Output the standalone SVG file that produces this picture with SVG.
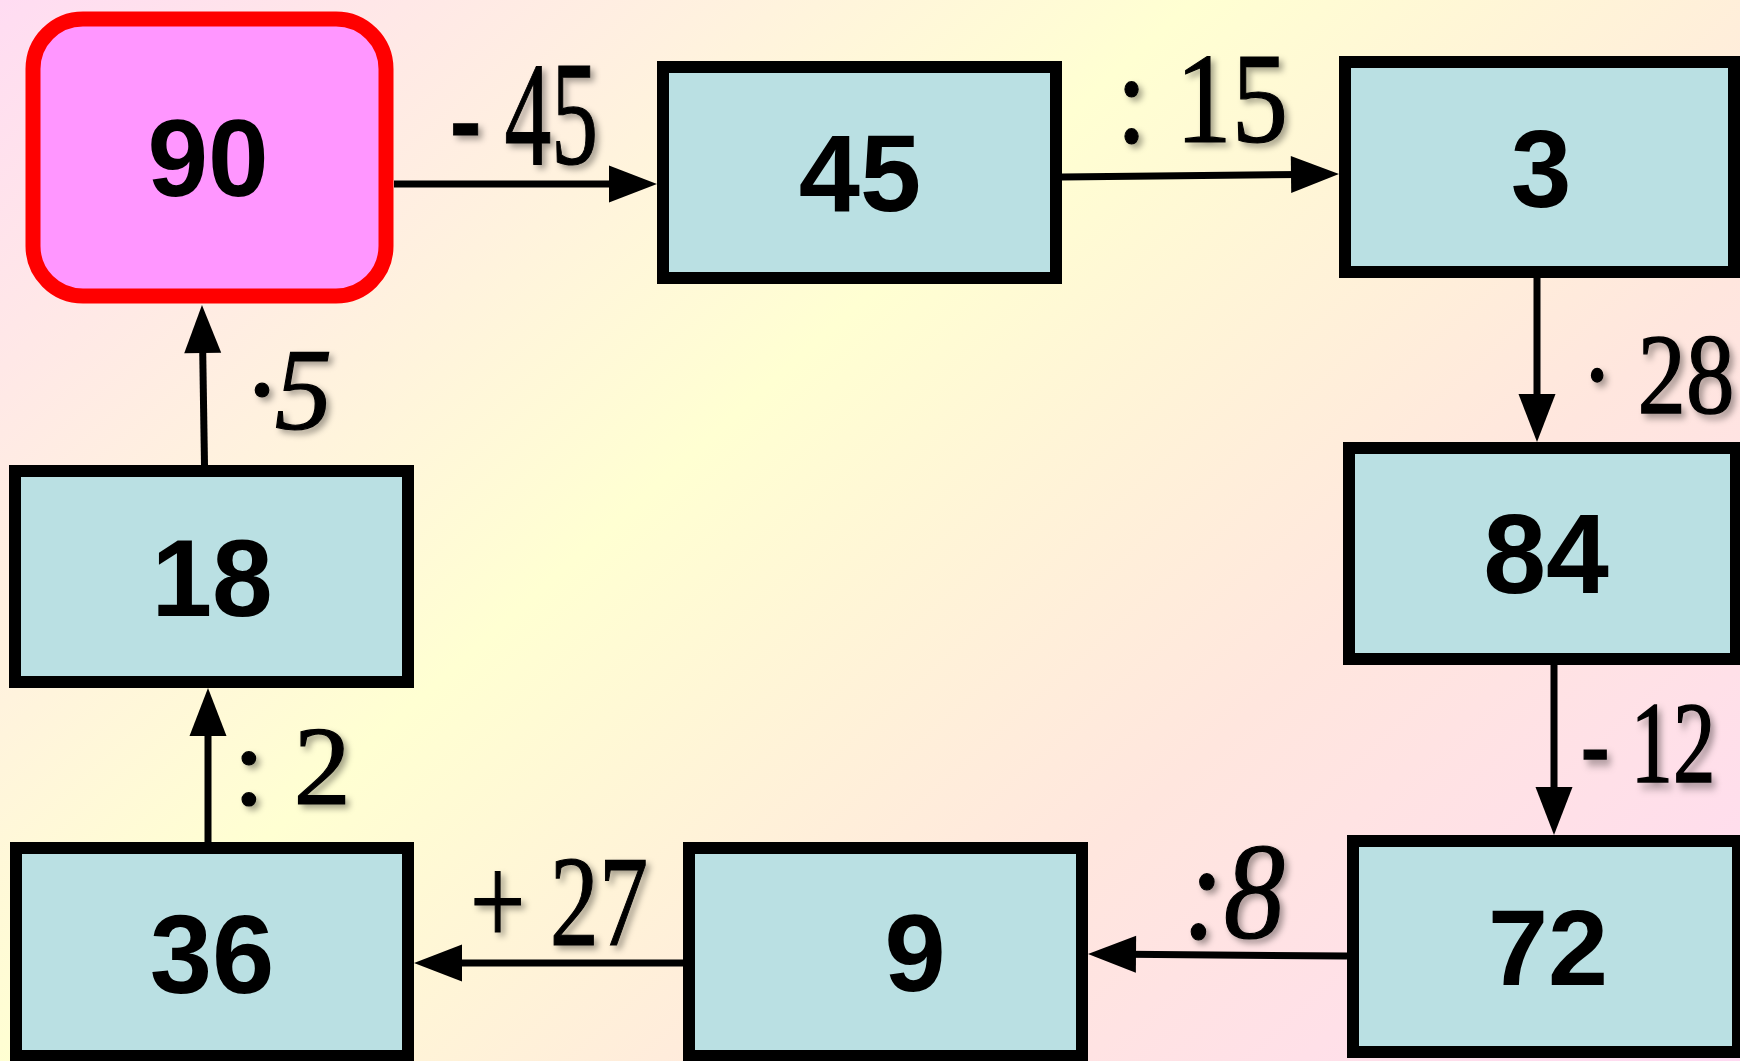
<svg xmlns="http://www.w3.org/2000/svg" width="1740" height="1061" viewBox="0 0 1740 1061">
  <defs>
    <linearGradient id="bg" gradientUnits="userSpaceOnUse" x1="0" y1="0" x2="1305" y2="1450">
      <stop offset="0" stop-color="#FFDCF2"/>
      <stop offset="0.41" stop-color="#FFFFD2"/>
      <stop offset="0.7" stop-color="#FFE6DE"/>
      <stop offset="1" stop-color="#FFDAF2"/>
    </linearGradient>
    <filter id="sh" x="-20%" y="-20%" width="140%" height="140%">
      <feDropShadow dx="4" dy="4" stdDeviation="3" flood-color="#000" flood-opacity="0.35"/>
    </filter>
    <marker id="ah" markerUnits="userSpaceOnUse" markerWidth="48" markerHeight="37" refX="8" refY="18.5" orient="auto" overflow="visible">
      <path d="M0,0 L48,18.5 L0,37 z" fill="#000"/>
    </marker>
  </defs>
  <style>
    .box { fill: #BAE0E3; stroke: #000; stroke-width: 12; }
    .start { fill: #FF96FF; stroke: #FF0000; stroke-width: 15; }
    .num { font-family: "Liberation Sans", Arial, sans-serif; font-weight: bold; fill: #000; text-anchor: middle; }
    .lbl { font-family: "Liberation Serif", "Times New Roman", serif; fill: #000; stroke: #000; stroke-width: 1.2; filter: url(#sh); }
    .it { font-style: italic; }
    .conn { stroke: #000; stroke-width: 7; fill: none; marker-end: url(#ah); }
  </style>
  <rect x="0" y="0" width="1740" height="1061" fill="url(#bg)"/>

  <g id="connectors">
    <line class="conn" x1="394" y1="184" x2="617" y2="184"/>
    <line class="conn" x1="1062" y1="177" x2="1299" y2="174.4"/>
    <line class="conn" x1="1537" y1="278" x2="1537" y2="402"/>
    <line class="conn" x1="1554" y1="664" x2="1554" y2="795"/>
    <line class="conn" x1="1347" y1="956" x2="1128" y2="954.3"/>
    <line class="conn" x1="683" y1="963" x2="454" y2="963"/>
    <line class="conn" x1="208" y1="842" x2="208" y2="728"/>
    <line class="conn" x1="204.5" y1="465" x2="202.6" y2="345"/>
  </g>

  <g id="labels">
    <text class="lbl" x="450" y="164" font-size="148" textLength="148" lengthAdjust="spacingAndGlyphs">- 45</text>
    <text class="lbl" x="1116" y="142" font-size="129" textLength="172" lengthAdjust="spacingAndGlyphs">: 15</text>
    <text class="lbl" transform="translate(1581,413) scale(1,1.186)" x="0" y="0" font-size="97">· 28</text>
    <text class="lbl" transform="translate(1581,782) scale(1,1.376)" x="0" y="0" font-size="85">- 12</text>
    <text class="lbl it" x="1183" y="938" font-size="137" textLength="102" lengthAdjust="spacingAndGlyphs">:8</text>
    <text class="lbl" x="470" y="945" font-size="130" textLength="178" lengthAdjust="spacingAndGlyphs">+ 27</text>
    <text class="lbl" x="233" y="804" font-size="112" textLength="118" lengthAdjust="spacingAndGlyphs">: 2</text>
    <text class="lbl it" x="246" y="429" font-size="117" textLength="86" lengthAdjust="spacingAndGlyphs">·5</text>
  </g>

  <g id="node-90">
    <rect class="start" x="33" y="19" width="353" height="277" rx="50" ry="50"/>
    <text class="num" x="208" y="196" font-size="109">90</text>
  </g>
  <g id="node-45">
    <rect class="box" x="663" y="67" width="393" height="211"/>
    <text class="num" x="860" y="211" font-size="110">45</text>
  </g>
  <g id="node-3">
    <rect class="box" x="1345" y="62" width="389" height="210"/>
    <text class="num" x="1541" y="207" font-size="109">3</text>
  </g>
  <g id="node-84">
    <rect class="box" x="1349" y="448" width="387" height="211"/>
    <text class="num" x="1546" y="593" font-size="113">84</text>
  </g>
  <g id="node-72">
    <rect class="box" x="1353" y="841" width="385" height="211"/>
    <text class="num" x="1548" y="985" font-size="108">72</text>
  </g>
  <g id="node-9">
    <rect class="box" x="689" y="848" width="393" height="208"/>
    <text class="num" x="915" y="991" font-size="110">9</text>
  </g>
  <g id="node-36">
    <rect class="box" x="16" y="848" width="392" height="208"/>
    <text class="num" x="212" y="993" font-size="112">36</text>
  </g>
  <g id="node-18">
    <rect class="box" x="15" y="471" width="393" height="211"/>
    <text class="num" x="212" y="616" font-size="109">18</text>
  </g>
</svg>
